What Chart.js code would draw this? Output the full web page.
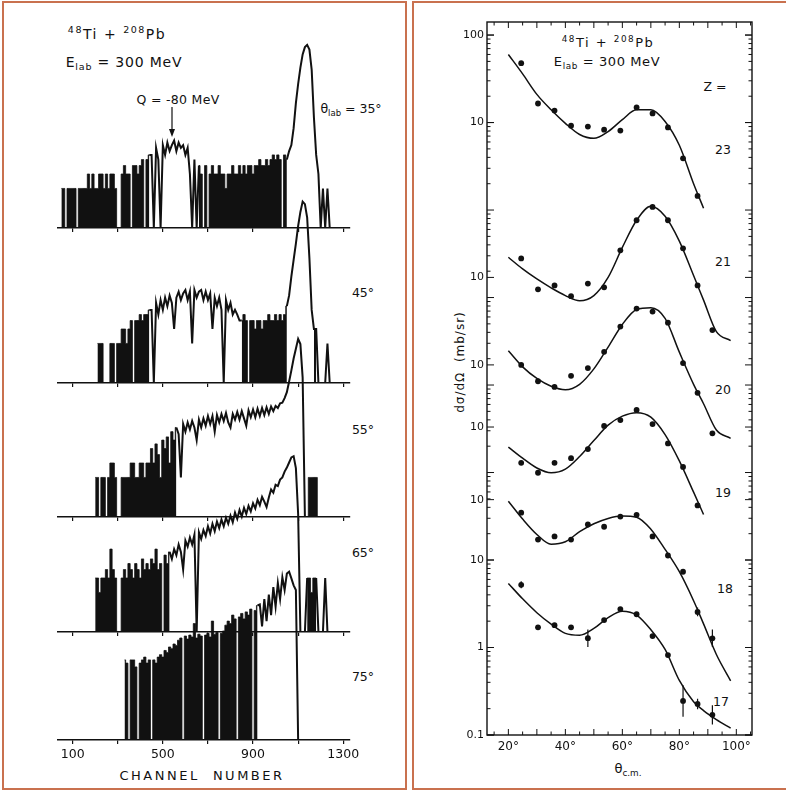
<!DOCTYPE html>
<html>
<head>
<meta charset="utf-8">
<title>48Ti + 208Pb, Elab = 300 MeV</title>
<script src="https://cdn.jsdelivr.net/npm/chart.js@4.4.1/dist/chart.umd.min.js"></script>
<style>
  html, body { margin: 0; padding: 0; background: #fff; }
  #page { position: relative; width: 786px; height: 792px; overflow: hidden;
          font-family: "DejaVu Sans", "Liberation Sans", sans-serif; color: #111; }
  .frame { position: absolute; box-sizing: border-box; border: 2.5px solid #c9714f; }
  canvas { position: absolute; }
  .t { position: absolute; white-space: nowrap; line-height: 1; transform: translate(-50%, -50%); }
  .t sup { font-size: 68%; vertical-align: 0.55em; }
  .t sub { font-size: 68%; vertical-align: -0.35em; }
</style>
</head>
<body>
<div id="page">
  <div class="frame" style="left:2px;top:1px;width:405px;height:789px"></div>
  <div class="frame" style="left:412px;top:1px;width:380px;height:789px"></div>

  <!-- left panel text -->
  <div class="t" style="left:117px;top:33px;font-size:14px;letter-spacing:1.5px"><sup>48</sup>Ti + <sup>208</sup>Pb</div>
  <div class="t" style="left:124px;top:63px;font-size:14px;letter-spacing:0.8px">E<sub>lab</sub> = 300 MeV</div>
  <div class="t" style="left:178px;top:100px;font-size:12.5px;letter-spacing:0.3px">Q = -80 MeV</div>
  <div class="t" style="left:351px;top:110px;font-size:12.5px">θ<sub>lab</sub> = 35°</div>
  <div class="t" style="left:363px;top:293px;font-size:12.5px">45°</div>
  <div class="t" style="left:363px;top:430px;font-size:12.5px">55°</div>
  <div class="t" style="left:363px;top:553px;font-size:12.5px">65°</div>
  <div class="t" style="left:363px;top:677px;font-size:12.5px">75°</div>
  <div class="t" style="left:202px;top:775px;font-size:13px;letter-spacing:2.5px">CHANNEL&nbsp;&nbsp;NUMBER</div>
  <svg style="position:absolute;left:0;top:0" width="786" height="792">
    <line x1="172" y1="107" x2="172" y2="132" stroke="#111" stroke-width="1.2"/>
    <path d="M169,129 L172,137 L175,129 Z" fill="#111"/>
  </svg>

  <!-- right panel text -->
  <div class="t" style="left:608px;top:42px;font-size:13px;letter-spacing:1.5px"><sup>48</sup>Ti + <sup>208</sup>Pb</div>
  <div class="t" style="left:607px;top:63px;font-size:13px;letter-spacing:0.6px">E<sub>lab</sub> = 300 MeV</div>
  <div class="t" style="left:715px;top:87px;font-size:12.5px">Z =</div>
  <div class="t" style="left:723px;top:150px;font-size:12.5px">23</div>
  <div class="t" style="left:723px;top:262px;font-size:12.5px">21</div>
  <div class="t" style="left:723px;top:390px;font-size:12.5px">20</div>
  <div class="t" style="left:723px;top:493px;font-size:12.5px">19</div>
  <div class="t" style="left:725px;top:589px;font-size:12.5px">18</div>
  <div class="t" style="left:721px;top:702px;font-size:12.5px">17</div>
  <div class="t" style="left:460px;top:362px;font-size:12px;letter-spacing:1px;transform:translate(-50%,-50%) rotate(-90deg)">dσ/dΩ &nbsp;(mb/sr)</div>
  <div class="t" style="left:628px;top:770px;font-size:13px">θ<sub>c.m.</sub></div>
</div>

<script>
// ---------- energy spectra (counts per 10-channel bin, log scale) ----------
const BIN = 10;
const FLOOR = 0.15;          // bottom of the count axis; empty bins drop to it
const DECADE_PX = 48;
const PLOT_H = 250;

const angles = [35, 45, 55, 65, 75];
const specStart = [50, 210, 200, 200, 330];

const counts35 = [
  1,1,0,1,1,1,1,0,1,1,1,1,
  2,1,2,1,1,2,2,1,2,1,2,2,1,
  0,0,
  2,3,2,2,
  0,
  3,3,2,3,
  4,0,4,5,
  5,0,7,4,0,8,5,9,6,8,10,6,9,7,8,5,7,2,0,4,0,
  3,2,0,3,0,2,3,2,2,3,2,2,1,2,2,3,2,2,3,2,3,2,3,3,2,3,3,4,3,3,4,3,4,5,4,5,4,0,5,
  4,6,8,18,60,150,330,620,880,980,780,300,30,5,2,0,1,0,1,0
];
const counts45 = [
  1,1,1,
  0,0,0,
  1,1,0,1,1,2,2,1,2,3,0,3,3,4,3,4,4,5,
  5,0,7,4,8,5,9,6,10,7,2,9,12,8,11,13,8,12,1,13,9,12,13,8,12,8,11,2,9,6,9,5,0,8,5,7,4,5,4,3,
  3,4,3,0,3,3,2,3,3,2,3,3,4,3,3,4,3,4,3,4,
  6,10,25,55,120,280,550,900,800,420,60,5,2,2,0,0,0,0,1,0
];
const counts55 = [
  1,1,0,1,1,0,1,2,2,1,0,0,1,1,1,1,2,2,1,1,2,2,1,2,2,
  4,2,5,3,1,6,4,7,2,9,6,11,8,1,13,9,14,10,15,11,6,16,11,17,12,19,13,19,9,20,
  14,21,15,22,14,11,21,16,23,16,24,17,12,25,18,26,18,27,19,28,20,29,21,30,24,31,28,35,36,45,
  60,100,170,300,480,770,600,120,0,0,1,1,1,1,0
];
const counts65 = [
  2,2,1,2,2,3,2,8,3,2,0,0,2,3,2,4,3,2,4,3,2,5,3,4,3,5,4,8,3,
  4,0,6,4,7,5,8,6,10,7,3,12,9,14,10,16,0,18,13,20,15,24,17,27,19,30,22,33,24,36,27,40,
  29,46,34,52,38,58,43,64,49,72,56,85,66,98,78,60,95,140,120,175,165,225,250,330,400,510,650,690,390,43,
  0,0,0,2,2,1,2,2,0,0,0,2,0
];
const counts75 = [
  7,6,0,7,7,5,0,6,7,8,6,7,0,7,6,8,
  9,8,11,10,13,12,15,14,
  18,20,0,22,19,23,21,40,20,24,22,0,23,25,21,45,24,26,0,25,28,
  37,45,40,60,50,0,55,65,50,70,60,80,0,75,95,
  100,35,130,45,160,60,230,90,280,130,370,200,440,
  480,350,250,200,0
];
const specCounts = [counts35, counts45, counts55, counts65, counts75];

// channel ranges where the histogram drops to zero so often that it reads as solid black
const dense35 = [[50, 440], [660, 1050]];
const dense45 = [[210, 440], [850, 1050], [1170, 1180]];
const dense55 = [[200, 560], [1140, 1190]];
const dense65 = [[200, 530], [1140, 1180]];
const dense75 = [[330, 920]];
const specDense = [dense35, dense45, dense55, dense65, dense75];

const chTicks = [100, 300, 500, 700, 900, 1100, 1300];
const chLabels = ['100', '', '500', '', '900', '', '1300'];
const baselines = [228, 383, 517, 632, 740];

// ---------- angular distributions ----------
const thetaCm = [24.5, 30.4, 36.2, 42, 47.9, 53.6, 59.3, 65, 70.6, 76, 81.3, 86.4, 91.6];
const sigmaZ23 = [47.7, 16.5, 13.7, 9.2, 9.0, 8.3, 8.1, 14.9, 12.7, 8.8, 3.9, 1.45, null];
const sigmaZ21 = [16.5, 7.3, 8.1, 6.1, 8.5, 7.7, 20.4, 45, 64, 45, 21.5, 8.1, 2.5];
const sigmaZ20 = [10, 6.5, 5.6, 7.5, 9.2, 14.1, 27.4, 44, 40.7, 30.4, 10.5, 4.8, 1.65];
const sigmaZ19 = [3.9, 3.0, 3.9, 4.4, 5.6, 10.3, 12.0, 15.7, 10.8, 6.5, 3.5, 1.27, null];
const sigmaZ18 = [7.1, 3.5, 3.8, 3.5, 5.2, 4.9, 6.4, 6.7, 3.8, 2.3, 1.5, 0.52, 0.26];
const sigmaZ17 = [5.2, 1.7, 1.8, 1.7, 1.28, 2.06, 2.75, 2.4, 1.35, 0.82, 0.245, 0.226, 0.17];
// error bars, half length in decades
const errZ18 = [0, 0, 0, 0, 0, 0, 0, 0, 0, 0, 0, 0.05, 0.1];
const errZ17 = [0.04, 0, 0, 0, 0.1, 0, 0, 0, 0, 0, 0.18, 0.06, 0.11];

const fitTheta = [20, 25, 30, 35, 40, 45, 50, 55, 60, 65, 70, 75, 80, 85, 88.5, 93, 98];
const fitZ23 = [60, 36, 21, 14, 9.8, 7.3, 6.6, 7.9, 10.8, 14, 14, 10.3, 5.5, 2.0, 1.05, null, null];
const fitZ21 = [17, 12.5, 9.6, 7.6, 6.2, 5.4, 6.2, 10, 22, 45, 65, 50, 26, 10.5, 5.5, 2.4, 1.9];
const fitZ20 = [14.5, 9.5, 7, 5.7, 5.2, 6, 9, 16, 29, 43, 45, 34, 14, 6, 3.6, 1.8, 1.45];
const fitZ19 = [5.9, 4.4, 3.4, 3.0, 3.3, 4.6, 7, 10.5, 13.3, 14.6, 13, 8.2, 4.1, 1.8, 1.0, null, null];
const fitZ18 = [9.6, 6, 4, 3.1, 3.3, 4.3, 5.3, 6.1, 6.5, 6.3, 4.6, 2.7, 1.5, 0.7, 0.38, 0.17, 0.085];
const fitZ17 = [5.4, 3.6, 2.5, 1.85, 1.45, 1.38, 1.65, 2.2, 2.6, 2.35, 1.6, 0.95, 0.42, 0.24, 0.19, 0.15, 0.12];

const zValues = [23, 21, 20, 19, 18, 17];
const zShift = [5, 3.23, 2.23, 1.52, 0.69, 0];   // decades each curve is raised by
const sigmaSets = [sigmaZ23, sigmaZ21, sigmaZ20, sigmaZ19, sigmaZ18, sigmaZ17];
const fitSets = [fitZ23, fitZ21, fitZ20, fitZ19, fitZ18, fitZ17];
const errSets = [null, null, null, null, errZ18, errZ17];

const yTickBase = [100, 10, 10, 10, 10, 10, 10, 1, 0.1];
const yTickText = ['100', '10', '10', '10', '10', '10', '10', '1', '0.1'];
const yTickCurve = [0, 0, 1, 2, 3, 4, 5, 5, 5];
const thetaTicks = [15, 20, 25, 30, 35, 40, 45, 50, 55, 60, 65, 70, 75, 80, 85, 90, 95, 100, 105];
const thetaLabeled = [20, 40, 60, 80, 100];

const INK = '#111';
const page = document.getElementById('page');
const font = { family: 'DejaVu Sans', size: 12 };

// split one spectrum into the solid (zero-riddled) blocks and the plain trace
function specSeries(start, counts, ranges) {
  const inside = counts.map((c, i) => ranges.some(([a, b]) => start + i * BIN >= a && start + i * BIN <= b));
  const val = c => (c > 0 ? c : FLOOR);
  const dense = counts.map((c, i) => ({ x: start + i * BIN, y: inside[i] ? val(c) : null }));
  const trace = counts.map((c, i) => {
    const keep = !inside[i] || (i > 0 && !inside[i - 1]) || (i < counts.length - 1 && !inside[i + 1]);
    return { x: start + i * BIN, y: keep ? val(c) : null };
  });
  trace.unshift({ x: start - BIN, y: FLOOR });
  trace.push({ x: start + counts.length * BIN, y: FLOOR });
  return { dense, trace };
}

function spectrumChart(k) {
  const last = k === angles.length - 1;
  const axisH = last ? 52 : 5;
  const padL = 18, padR = 20;
  const cv = document.createElement('canvas');
  cv.width = 292 + padL + padR;
  cv.height = PLOT_H + axisH;
  cv.style.left = (58 - padL) + 'px';
  cv.style.top = (baselines[k] - PLOT_H) + 'px';
  page.appendChild(cv);

  const { dense, trace } = specSeries(specStart[k], specCounts[k], specDense[k]);

  new Chart(cv, {
    type: 'line',
    data: {
      datasets: [
        {
          data: dense, stepped: 'middle', fill: 'start', backgroundColor: INK,
          borderColor: INK, borderWidth: 0.8, pointRadius: 0, spanGaps: false
        },
        {
          data: trace, fill: false, borderColor: INK, borderWidth: 2,
          pointRadius: 0, spanGaps: false, tension: 0
        }
      ]
    },
    options: {
      responsive: false, animation: false, events: [],
      layout: { padding: { left: padL, right: padR, top: 0, bottom: 0 } },
      plugins: { legend: { display: false }, tooltip: { enabled: false } },
      scales: {
        x: {
          type: 'linear', min: 35, max: 1330,
          afterBuildTicks: s => { s.ticks = chTicks.map(v => ({ value: v })); },
          afterFit: s => { s.height = axisH; s.paddingLeft = 0; s.paddingRight = 0; },
          grid: { drawOnChartArea: false, drawTicks: true, tickLength: 4, color: INK, lineWidth: 1.2 },
          border: { display: true, color: INK, width: 1.4 },
          ticks: {
            display: last, autoSkip: false, maxRotation: 0, padding: 3, color: INK,
            font: { family: 'DejaVu Sans', size: 12.5 },
            callback: (v, i) => chLabels[i]
          }
        },
        y: {
          type: 'logarithmic', display: false,
          min: FLOOR, max: FLOOR * Math.pow(10, PLOT_H / DECADE_PX)
        }
      }
    }
  });
}

angles.forEach((a, k) => spectrumChart(k));

// ---------- right panel ----------
const Y_MIN = 0.1, Y_MAX = 1.41e7;

function buildYTicks() {
  const ticks = [];
  for (let n = -1; n <= 7; n++) {
    for (let m = 1; m <= 9; m++) {
      const v = m * Math.pow(10, n);
      if (v >= Y_MIN && v <= Y_MAX) ticks.push({ value: v, text: '', big: m === 1 });
    }
  }
  yTickBase.forEach((b, i) => {
    ticks.push({ value: b * Math.pow(10, zShift[yTickCurve[i]]), text: yTickText[i], big: true });
  });
  return ticks.sort((p, q) => p.value - q.value);
}

const frameTicks = {
  id: 'frameTicks',
  afterDatasetsDraw(chart) {
    const { ctx, chartArea: a, scales: { x, y } } = chart;
    ctx.save();
    ctx.strokeStyle = INK;
    ctx.lineWidth = 1.4;
    ctx.strokeRect(a.left, a.top, a.right - a.left, a.bottom - a.top);
    ctx.lineWidth = 1;
    ctx.beginPath();
    y.ticks.forEach(t => {
      const py = y.getPixelForValue(t.value);
      const len = t.big ? 7 : 3.5;
      ctx.moveTo(a.left, py); ctx.lineTo(a.left + len, py);
      ctx.moveTo(a.right, py); ctx.lineTo(a.right - len, py);
    });
    x.ticks.forEach(t => {
      const px = x.getPixelForValue(t.value);
      const len = t.value % 10 === 0 ? 6 : 3.5;
      ctx.moveTo(px, a.bottom); ctx.lineTo(px, a.bottom - len);
      ctx.moveTo(px, a.top); ctx.lineTo(px, a.top + len);
    });
    ctx.stroke();

    // error bars
    ctx.lineWidth = 1.2;
    ctx.beginPath();
    errSets.forEach((errs, i) => {
      if (!errs) return;
      const f = Math.pow(10, zShift[i]);
      errs.forEach((e, j) => {
        const v = sigmaSets[i][j];
        if (!e || v == null) return;
        const px = x.getPixelForValue(thetaCm[j]);
        ctx.moveTo(px, y.getPixelForValue(v * f * Math.pow(10, e)));
        ctx.lineTo(px, y.getPixelForValue(v * f / Math.pow(10, e)));
      });
    });
    ctx.stroke();
    ctx.restore();
  }
};

const angDatasets = [];
zValues.forEach((z, i) => {
  const f = Math.pow(10, zShift[i]);
  angDatasets.push({
    label: 'Z=' + z + ' fit',
    data: fitTheta.map((t, j) => ({ x: t, y: fitSets[i][j] == null ? null : fitSets[i][j] * f })),
    showLine: true, cubicInterpolationMode: 'monotone', spanGaps: false,
    borderColor: INK, borderWidth: 1.5, pointRadius: 0
  });
  angDatasets.push({
    label: 'Z=' + z,
    data: thetaCm.map((t, j) => ({ x: t, y: sigmaSets[i][j] == null ? null : sigmaSets[i][j] * f })),
    showLine: false, pointRadius: 2.9, pointBackgroundColor: INK, pointBorderWidth: 0
  });
});

const rc = document.createElement('canvas');
rc.width = 373;
rc.height = 792;
rc.style.left = '413px';
rc.style.top = '0px';
page.appendChild(rc);

new Chart(rc, {
  type: 'scatter',
  data: { datasets: angDatasets },
  options: {
    responsive: false, animation: false, events: [],
    layout: { padding: { left: 0, right: 34, top: 22, bottom: 0 } },
    plugins: { legend: { display: false }, tooltip: { enabled: false } },
    scales: {
      x: {
        type: 'linear', min: 12.5, max: 105.5,
        afterBuildTicks: s => { s.ticks = thetaTicks.map(v => ({ value: v })); },
        afterFit: s => { s.height = 57; s.paddingLeft = 0; s.paddingRight = 0; },
        grid: { display: false, drawTicks: false },
        border: { display: false },
        ticks: {
          autoSkip: false, maxRotation: 0, padding: 5, color: INK, font,
          callback: v => thetaLabeled.includes(v) ? v + '°' : ''
        }
      },
      y: {
        type: 'logarithmic', min: Y_MIN, max: Y_MAX,
        afterBuildTicks: s => { s.ticks = buildYTicks(); },
        afterFit: s => { s.width = 74; s.paddingTop = 0; s.paddingBottom = 0; },
        grid: { display: false, drawTicks: false },
        border: { display: false },
        ticks: {
          autoSkip: false, padding: 3, color: INK, font: { family: 'DejaVu Sans', size: 11 },
          callback: (v, i, ticks) => ticks[i].text
        }
      }
    }
  },
  plugins: [frameTicks]
});
</script>
</body>
</html>
